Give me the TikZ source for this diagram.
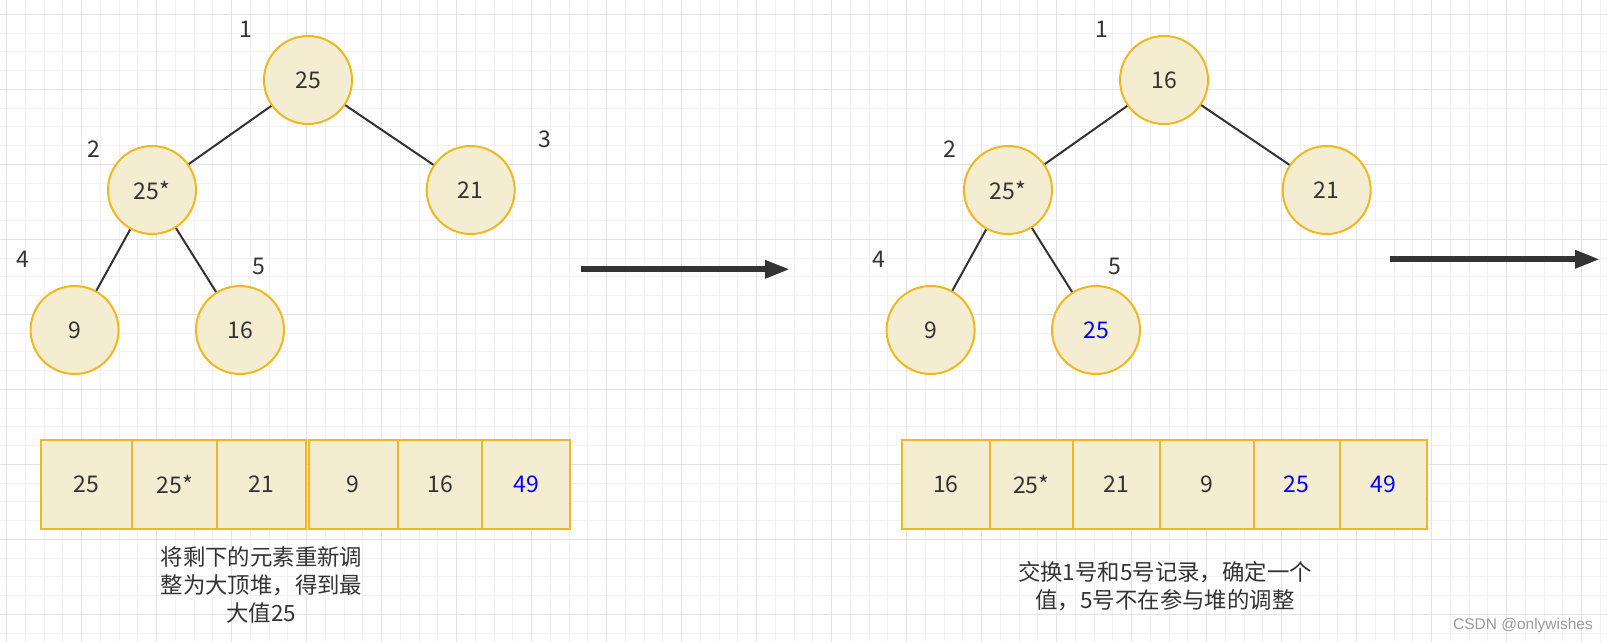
\documentclass[tikz,border=0pt]{standalone}
\usepackage{fontspec}
\setmainfont{Noto Sans CJK SC}
\newfontfamily\wmfont{Liberation Sans}
\usetikzlibrary{arrows.meta}
\definecolor{nodefill}{HTML}{F5EDD2}
\definecolor{nodeline}{HTML}{EFB820}
\definecolor{txt}{HTML}{333333}
\definecolor{gridminor}{HTML}{F1F1F1}
\definecolor{gridmajor}{HTML}{E3E3E3}
\definecolor{wmgray}{HTML}{9A9A9A}
\begin{document}
\begin{tikzpicture}[x=1pt,y=-1pt,
  heapnode/.style={circle, draw=nodeline, fill=nodefill, line width=2pt, minimum size=88pt, inner sep=0pt, text=txt, font=\fontsize{23}{28}\selectfont},
  cell/.style={rectangle, draw=nodeline, fill=nodefill, line width=2pt, minimum height=88.5pt, inner sep=0pt, text=txt, font=\fontsize{23}{28}\selectfont},
  idx/.style={text=txt, inner sep=0pt, font=\fontsize{23}{28}\selectfont},
  edge/.style={draw=txt, line width=2pt},
  bigarrow/.style={draw=txt, line width=6pt, -{Triangle[length=25pt,width=17pt]}},
  note/.style={text=txt, align=center, inner sep=0pt, font=\fontsize{22.4}{28}\selectfont}]
\useasboundingbox (0,0) rectangle (1607,642);
\fill[white] (0,0) rectangle (1607,642);
% grid
\foreach \x in {6.7,25.45,...,1607} \draw[gridminor, line width=1pt] (\x,0) -- (\x,642);
\foreach \y in {14.3,33.05,...,642} \draw[gridminor, line width=1pt] (0,\y) -- (1607,\y);
\foreach \x in {6.7,81.7,...,1607} \draw[gridmajor, line width=1pt] (\x,0) -- (\x,642);
\foreach \y in {14.3,89.3,...,642} \draw[gridmajor, line width=1pt] (0,\y) -- (1607,\y);

% left tree
\node[heapnode] (L1) at (308,80) {25};
\node[heapnode] (L2) at (152,190) {25*};
\node[heapnode] (L3) at (470.7,190) {21};
\node[heapnode] (L4) at (74.6,330) {9};
\node[heapnode] (L5) at (240,330) {16};
\draw[edge] (L1) -- (L2);
\draw[edge] (L1) -- (L3);
\draw[edge] (L2) -- (L4);
\draw[edge] (L2) -- (L5);
\node[idx] (Ln1) at (245.7,29.3) {1};
\node[idx] (Ln2) at (93.8,149) {2};
\node[idx] (Ln3) at (544.6,139.3) {3};
\node[idx] (Ln4) at (23,259) {4};
\node[idx] (Ln5) at (258.7,266.7) {5};

% right tree
\node[heapnode] (R1) at (1164,80) {16};
\node[heapnode] (R2) at (1008,190) {25*};
\node[heapnode] (R3) at (1326.7,190) {21};
\node[heapnode] (R4) at (930.6,330) {9};
\node[heapnode, text=blue] (R5) at (1096,330) {25};
\draw[edge] (R1) -- (R2);
\draw[edge] (R1) -- (R3);
\draw[edge] (R2) -- (R4);
\draw[edge] (R2) -- (R5);
\node[idx] (Rn1) at (1101.7,29.3) {1};
\node[idx] (Rn2) at (949.8,149) {2};
\node[idx] (Rn4) at (879,259) {4};
\node[idx] (Rn5) at (1114.7,266.7) {5};

% arrows
\coordinate (a1s) at (580.7,269.3);
\coordinate (a1e) at (790,269.3);
\draw[bigarrow] (a1s) -- (a1e);
\coordinate (a2s) at (1390,259.3);
\coordinate (a2e) at (1600,259.3);
\draw[bigarrow] (a2s) -- (a2e);

% left array
\node[cell, minimum width=91pt] (la1) at (86.5,484.25) {25};
\node[cell, minimum width=85.3pt] (la2) at (174.65,484.25) {25*};
\node[cell, minimum width=88.7pt] (la3) at (261.65,484.25) {21};
\node[cell, minimum width=89.3pt] (la4) at (353.35,484.25) {9};
\node[cell, minimum width=84pt] (la5) at (440,484.25) {16};
\node[cell, minimum width=88pt, text=blue] (la6) at (526,484.25) {49};

% right array
\node[cell, minimum width=87.6pt] (ra1) at (945.8,484.25) {16};
\node[cell, minimum width=83.4pt] (ra2) at (1031.3,484.25) {25*};
\node[cell, minimum width=87pt] (ra3) at (1116.5,484.25) {21};
\node[cell, minimum width=93.5pt] (ra4) at (1206.75,484.25) {9};
\node[cell, minimum width=86.5pt, text=blue] (ra5) at (1296.75,484.25) {25};
\node[cell, minimum width=87pt, text=blue] (ra6) at (1383.5,484.25) {49};

% notes
\node[note] (lnote) at (261.4,584.8) {将剩下的元素重新调\\整为大顶堆，得到最\\大值25};
\node[note] (rnote) at (1165,585.9) {交换1号和5号记录，确定一个\\值，5号不在参与堆的调整};

% watermark
\node[text=wmgray, inner sep=0pt, font=\wmfont\fontsize{15.5}{18}\selectfont] (wm) at (1523,625) {CSDN @onlywishes};
\end{tikzpicture}
\end{document}
